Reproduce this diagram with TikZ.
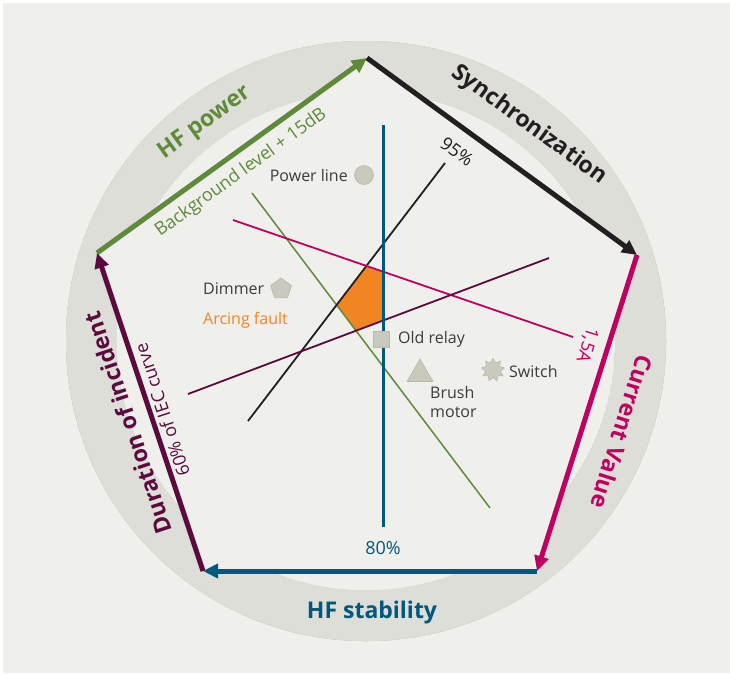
\documentclass[tikz,border=0pt]{standalone}
\usepackage{fontspec}
\setmainfont{Open Sans}
\usetikzlibrary{arrows.meta,shapes.geometric}
\definecolor{bg}{HTML}{EFEFEB}
\definecolor{ring}{HTML}{DEDED8}
\definecolor{shad}{HTML}{C0C0BE}
\definecolor{cgreen}{HTML}{5F8A3A}
\definecolor{cblack}{HTML}{231F20}
\definecolor{cmag}{HTML}{BE0060}
\definecolor{cblue}{HTML}{00587C}
\definecolor{cpurp}{HTML}{5C0A3E}
\definecolor{corange}{HTML}{F08522}
\definecolor{ctext}{HTML}{3C3C3C}
\definecolor{mark}{HTML}{C9C9BD}
\definecolor{markd}{HTML}{B8B8AC}
\begin{document}
\begin{tikzpicture}[x=1pt,y=-1pt,
 edge/.style={line width=5pt,-{Triangle[length=15pt,width=14pt]}},
 axislbl/.style={font=\fontsize{23}{23}\selectfont\bfseries,inner sep=0pt},
 minilbl/.style={font=\fontsize{18}{18}\selectfont,inner sep=0pt},
 txt/.style={font=\fontsize{16}{19}\selectfont,text=ctext,inner sep=0pt},
 mk/.style={fill=mark,draw=markd,line width=0.6pt,inner sep=0pt},
 gline/.style={line width=1.8pt}
]
\useasboundingbox (0,0) rectangle (730,673);
\fill[white] (0,0) rectangle (730,673);
\fill[bg] (3,3) rectangle (730,673);

% ring with outer shadow
\coordinate (C) at (366,341);
\foreach \k in {8,...,1} {
  \pgfmathtruncatemacro\pc{18-2*\k}
  \fill[black!\pc!bg,shift={(\k*0.9,\k*1.5)}] (C) circle (300pt);
}
\fill[ring] (C) circle (300pt);
% inner disc with shadow on its upper edge
\begin{scope}
  \clip (C) circle (249pt);
  \fill[shad] (C) circle (249pt);
  \foreach \k in {1,...,12} {
    \pgfmathtruncatemacro\pc{100-\k*8}
    \fill[shad!\pc!bg,shift={(\k*1.7,\k*2.7)}] (C) circle (249pt);
  }
  \fill[bg,shift={(22,35)}] (C) circle (249pt);
\end{scope}

% pentagon vertices
\coordinate (T)  at (367,58);
\coordinate (R)  at (637,255);
\coordinate (BR) at (537,571);
\coordinate (BL) at (203,571);
\coordinate (L)  at (97,253);
\fill[bg] (T) -- (R) -- (BR) -- (BL) -- (L) -- cycle;

% inner lines end points
\coordinate (bl1) at (383,125);  \coordinate (bl2) at (383,527);
\coordinate (bk1) at (445,163);  \coordinate (bk2) at (248,421);
\coordinate (gr1) at (252,193);  \coordinate (gr2) at (490,508);
\coordinate (mg1) at (233,220);  \coordinate (mg2) at (573,337);
\coordinate (pu1) at (188,394);  \coordinate (pu2) at (549,258);

% arcing fault region
\fill[corange] (intersection of bk1--bk2 and mg1--mg2)
  -- (intersection of mg1--mg2 and bl1--bl2)
  -- (intersection of bl1--bl2 and pu1--pu2)
  -- (intersection of pu1--pu2 and gr1--gr2)
  -- (intersection of gr1--gr2 and bk1--bk2) -- cycle;

\draw[gline,cgreen,line width=1.5pt] (gr1) -- (gr2);
\draw[gline,cblack] (bk1) -- (bk2);
\draw[gline,cmag] (mg1) -- (mg2);
\draw[gline,cpurp] (pu1) -- (pu2);
\draw[cblue,line width=3pt] (bl1) -- (bl2);

% markers
\node[mk,circle,minimum size=19pt] (mPower) at (364,175) {};
\node[txt,anchor=east] (tPower) at (348,175) {Power line};
\node[mk,regular polygon,regular polygon sides=5,minimum size=22pt] (mDim) at (281,289) {};
\node[txt,anchor=west] (tDim) at (203,289) {Dimmer};
\node[txt,anchor=west,text=corange] (tArc) at (203,320) {Arcing fault};
\node[mk,rectangle,minimum size=16pt] (mRelay) at (381,339) {};
\node[txt,anchor=west] (tRelay) at (398,339) {Old relay};
\node[mk,regular polygon,regular polygon sides=3,minimum size=30pt] (mBrush) at (420,374) {};
\node[txt,anchor=north west,align=left] (tBrush) at (430,386) {Brush\\motor};
\node[mk,star,star points=9,star point ratio=1.55,minimum size=23pt] (mSwitch) at (493,370) {};
\node[txt,anchor=west] (tSwitch) at (509,371) {Switch};

% axis value labels
\node[minilbl,text=cgreen,rotate=35.7] (lBg) at (241,173) {Background level + 15dB};
\node[minilbl,text=cblack,rotate=-36] (l95) at (457,152) {95\%};
\node[minilbl,text=cmag,rotate=-107.4] (l15) at (587,345) {1,5A};
\node[minilbl,text=cblue] (l80) at (383,548) {80\%};
\node[minilbl,text=cpurp,rotate=108.4] (l60) at (162,410) {60\% of IEC curve};

% axis names
\node[axislbl,text=cgreen,rotate=35.7] (aHF) at (205,123) {HF power};
\node[axislbl,text=cblack,rotate=-36] (aSync) at (529,125) {Synchronization};
\node[axislbl,text=cmag,rotate=-107.4] (aCur) at (622,432) {Current Value};
\node[axislbl,text=cblue] (aStab) at (372,613) {HF stability};
\node[axislbl,text=cpurp,rotate=108.4] (aDur) at (128,423) {Duration of incident};

% pentagon edges
\draw[edge,cgreen] (L) -- (T);
\draw[edge,cblack] (T) -- (R);
\draw[edge,cmag] (R) -- (BR);
\draw[edge,cblue] (BR) -- (BL);
\draw[edge,cpurp] (BL) -- (L);
\end{tikzpicture}
\end{document}
